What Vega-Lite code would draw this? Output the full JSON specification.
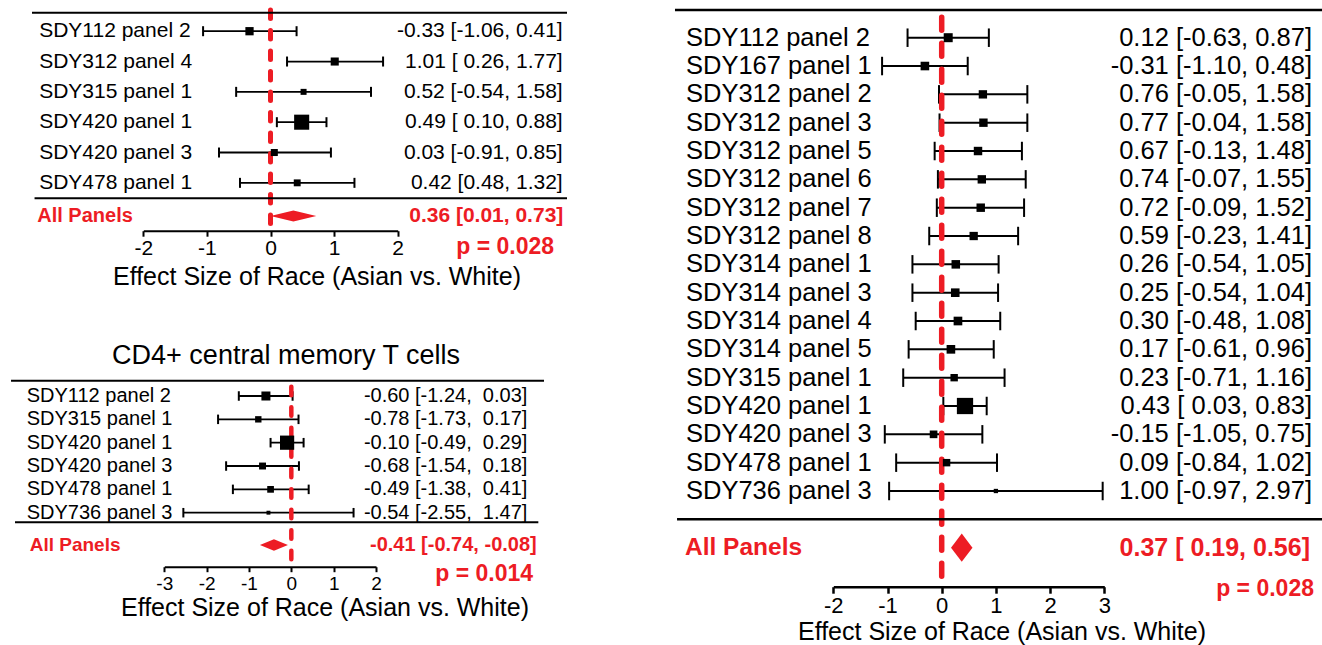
{
  "$schema": "https://vega.github.io/schema/vega-lite/v6.json",
  "width": 1322,
  "height": 645,
  "autosize": {"type": "none"},
  "padding": 0,
  "config": {"view": {"stroke": null}, "font": "Liberation Sans", "axis": {"grid": false}},
  "datasets": {
    "p1": [
      {"row": 1, "study": "SDY112 panel 2", "est": -0.33, "lo": -1.06, "hi": 0.41, "w": 7.11, "ci": "-0.33 [-1.06, 0.41]"},
      {"row": 2, "study": "SDY312 panel 4", "est": 1.01, "lo": 0.26, "hi": 1.77, "w": 6.74, "ci": "1.01 [ 0.26, 1.77]"},
      {"row": 3, "study": "SDY315 panel 1", "est": 0.52, "lo": -0.54, "hi": 1.58, "w": 3.42, "ci": "0.52 [-0.54, 1.58]"},
      {"row": 4, "study": "SDY420 panel 1", "est": 0.49, "lo": 0.10, "hi": 0.88, "w": 25.26, "ci": "0.49 [ 0.10, 0.88]"},
      {"row": 5, "study": "SDY420 panel 3", "est": 0.06, "lo": -0.81, "hi": 0.95, "w": 4.96, "ci": "0.03 [-0.91, 0.85]"},
      {"row": 6, "study": "SDY478 panel 1", "est": 0.42, "lo": -0.48, "hi": 1.32, "w": 4.74, "ci": "0.42 [0.48, 1.32]"}
    ],
    "p1s": [
      {"label": "All Panels", "est": 0.36, "lo": 0.01, "hi": 0.73, "ci": "0.36 [0.01, 0.73]", "p": "p = 0.028"}
    ],
    "p2": [
      {"row": 1, "study": "SDY112 panel 2", "est": -0.60, "lo": -1.24, "hi": 0.03, "w": 9.53, "ci": "-0.60 [-1.24, \u00a00.03]"},
      {"row": 2, "study": "SDY315 panel 1", "est": -0.78, "lo": -1.73, "hi": 0.17, "w": 4.26, "ci": "-0.78 [-1.73, \u00a00.17]"},
      {"row": 3, "study": "SDY420 panel 1", "est": -0.10, "lo": -0.49, "hi": 0.29, "w": 25.26, "ci": "-0.10 [-0.49, \u00a00.29]"},
      {"row": 4, "study": "SDY420 panel 3", "est": -0.68, "lo": -1.54, "hi": 0.18, "w": 5.19, "ci": "-0.68 [-1.54, \u00a00.18]"},
      {"row": 5, "study": "SDY478 panel 1", "est": -0.49, "lo": -1.38, "hi": 0.41, "w": 4.80, "ci": "-0.49 [-1.38, \u00a00.41]"},
      {"row": 6, "study": "SDY736 panel 3", "est": -0.54, "lo": -2.55, "hi": 1.47, "w": 0.95, "ci": "-0.54 [-2.55, \u00a01.47]"}
    ],
    "p2s": [
      {"label": "All Panels", "est": -0.41, "lo": -0.74, "hi": -0.08, "ci": "-0.41 [-0.74, -0.08]", "p": "p = 0.014", "title": "CD4+ central memory T cells"}
    ],
    "p3": [
      {"row": 1, "study": "SDY112 panel 2", "est": 0.12, "lo": -0.63, "hi": 0.87, "w": 6.83, "ci": "0.12 [-0.63, 0.87]"},
      {"row": 2, "study": "SDY167 panel 1", "est": -0.31, "lo": -1.10, "hi": 0.48, "w": 6.16, "ci": "-0.31 [-1.10, 0.48]"},
      {"row": 3, "study": "SDY312 panel 2", "est": 0.76, "lo": -0.05, "hi": 1.58, "w": 5.78, "ci": "0.76 [-0.05, 1.58]"},
      {"row": 4, "study": "SDY312 panel 3", "est": 0.77, "lo": -0.04, "hi": 1.58, "w": 5.85, "ci": "0.77 [-0.04, 1.58]"},
      {"row": 5, "study": "SDY312 panel 5", "est": 0.67, "lo": -0.13, "hi": 1.48, "w": 5.93, "ci": "0.67 [-0.13, 1.48]"},
      {"row": 6, "study": "SDY312 panel 6", "est": 0.74, "lo": -0.07, "hi": 1.55, "w": 5.85, "ci": "0.74 [-0.07, 1.55]"},
      {"row": 7, "study": "SDY312 panel 7", "est": 0.72, "lo": -0.09, "hi": 1.52, "w": 5.93, "ci": "0.72 [-0.09, 1.52]"},
      {"row": 8, "study": "SDY312 panel 8", "est": 0.59, "lo": -0.23, "hi": 1.41, "w": 5.71, "ci": "0.59 [-0.23, 1.41]"},
      {"row": 9, "study": "SDY314 panel 1", "est": 0.26, "lo": -0.54, "hi": 1.05, "w": 6.08, "ci": "0.26 [-0.54, 1.05]"},
      {"row": 10, "study": "SDY314 panel 3", "est": 0.25, "lo": -0.54, "hi": 1.04, "w": 6.16, "ci": "0.25 [-0.54, 1.04]"},
      {"row": 11, "study": "SDY314 panel 4", "est": 0.30, "lo": -0.48, "hi": 1.08, "w": 6.31, "ci": "0.30 [-0.48, 1.08]"},
      {"row": 12, "study": "SDY314 panel 5", "est": 0.17, "lo": -0.61, "hi": 0.96, "w": 6.23, "ci": "0.17 [-0.61, 0.96]"},
      {"row": 13, "study": "SDY315 panel 1", "est": 0.23, "lo": -0.71, "hi": 1.16, "w": 4.39, "ci": "0.23 [-0.71, 1.16]"},
      {"row": 14, "study": "SDY420 panel 1", "est": 0.43, "lo": 0.03, "hi": 0.83, "w": 24.0, "ci": "0.43 [ 0.03, 0.83]"},
      {"row": 15, "study": "SDY420 panel 3", "est": -0.15, "lo": -1.05, "hi": 0.75, "w": 4.74, "ci": "-0.15 [-1.05, 0.75]"},
      {"row": 16, "study": "SDY478 panel 1", "est": 0.09, "lo": -0.84, "hi": 1.02, "w": 4.44, "ci": "0.09 [-0.84, 1.02]"},
      {"row": 17, "study": "SDY736 panel 3", "est": 1.00, "lo": -0.97, "hi": 2.97, "w": 0.99, "ci": "1.00 [-0.97, 2.97]"}
    ],
    "p3s": [
      {"label": "All Panels", "est": 0.37, "lo": 0.19, "hi": 0.56, "ci": "0.37 [ 0.19, 0.56]", "p": "p = 0.028"}
    ]
  },
  "layer": [
    {
      "layer": [
        {
          "data": {"name": "p1"},
          "mark": {"type": "rule", "color": "black", "strokeWidth": 1.8},
          "encoding": {
            "x": {"field": "lo", "type": "quantitative",
              "scale": {"domain": [-2, 2], "range": [143.3, 397.7], "nice": false, "zero": false},
              "axis": {"orient": "bottom", "values": [-2, -1, 0, 1, 2], "offset": -414.3, "domainWidth": 2, "domainColor": "black", "tickColor": "black", "tickWidth": 2, "tickSize": 5.5, "labelFontSize": 21, "labelColor": "black", "labelPadding": 17.8, "labelBaseline": "alphabetic", "labelFlush": false, "labelOverlap": false, "labelExpr": "'' + datum.value", "title": "Effect Size of Race (Asian vs. White)", "titleFontSize": 25, "titleFontWeight": "normal", "titleColor": "black", "titleX": 316.5, "titleY": 53.8, "titleBaseline": "alphabetic", "titleAlign": "center"}},
            "x2": {"field": "hi"},
            "y": {"field": "row", "type": "quantitative", "scale": {"domain": [1, 6], "range": [31.2, 182.85], "nice": false, "zero": false}, "axis": null}
          }
        },
        {
          "data": {"name": "p1"},
          "mark": {"type": "tick", "orient": "vertical", "size": 10, "thickness": 2, "color": "black", "opacity": 1},
          "encoding": {"x": {"field": "lo", "type": "quantitative"}, "y": {"field": "row", "type": "quantitative", "axis": null}}
        },
        {
          "data": {"name": "p1"},
          "mark": {"type": "tick", "orient": "vertical", "size": 10, "thickness": 2, "color": "black", "opacity": 1},
          "encoding": {"x": {"field": "hi", "type": "quantitative"}, "y": {"field": "row", "type": "quantitative", "axis": null}}
        },
        {
          "data": {"name": "p1s"},
          "mark": {"type": "rule", "color": "#ed1c24", "strokeWidth": 5, "strokeDash": [8.5, 12], "strokeCap": "round"},
          "encoding": {"x": {"datum": 0}, "y": {"datum": 0.30, "axis": null}, "y2": {"datum": 7.65}}
        },
        {
          "data": {"name": "p1"},
          "mark": {"type": "point", "shape": "square", "filled": true, "color": "black", "opacity": 1},
          "encoding": {
            "x": {"field": "est", "type": "quantitative"},
            "y": {"field": "row", "type": "quantitative", "axis": null},
            "size": {"field": "w", "type": "quantitative", "scale": {"domain": [0, 25], "range": [6, 225]}, "legend": null}
          }
        },
        {
          "data": {"name": "p1s"},
          "mark": {"type": "point", "shape": "M-1,0L0,-0.24L1,0L0,0.24Z", "filled": true, "color": "#ed1c24", "opacity": 1, "size": 2098},
          "encoding": {"x": {"field": "est", "type": "quantitative"}, "y": {"datum": 7.093, "axis": null}}
        },
        {
          "data": {"name": "p1s"},
          "mark": {"type": "rule", "color": "black", "strokeWidth": 2},
          "encoding": {"x": {"datum": -3.75}, "x2": {"datum": 4.662}, "y": {"datum": 0.39, "axis": null}}
        },
        {
          "data": {"name": "p1s"},
          "mark": {"type": "rule", "color": "black", "strokeWidth": 2},
          "encoding": {"x": {"datum": -3.71}, "x2": {"datum": 4.662}, "y": {"datum": 6.51, "axis": null}}
        },
        {
          "data": {"name": "p1"},
          "mark": {"type": "text", "align": "left", "baseline": "middle", "fontSize": 21, "color": "black"},
          "encoding": {"x": {"datum": -3.637}, "y": {"field": "row", "type": "quantitative", "axis": null}, "text": {"field": "study"}}
        },
        {
          "data": {"name": "p1"},
          "mark": {"type": "text", "align": "right", "baseline": "middle", "fontSize": 21, "color": "black"},
          "encoding": {"x": {"datum": 4.594}, "y": {"field": "row", "type": "quantitative", "axis": null}, "text": {"field": "ci"}}
        },
        {
          "data": {"name": "p1s"},
          "mark": {"type": "text", "align": "left", "baseline": "middle", "fontSize": 20, "fontWeight": "bold", "color": "#ed1c24"},
          "encoding": {"x": {"datum": -3.668}, "y": {"datum": 7.093, "axis": null}, "text": {"field": "label"}}
        },
        {
          "data": {"name": "p1s"},
          "mark": {"type": "text", "align": "right", "baseline": "middle", "fontSize": 21, "fontWeight": "bold", "color": "#ed1c24"},
          "encoding": {"x": {"datum": 4.604}, "y": {"datum": 7.093, "axis": null}, "text": {"field": "ci"}}
        },
        {
          "data": {"name": "p1s"},
          "mark": {"type": "text", "align": "right", "baseline": "middle", "fontSize": 23, "fontWeight": "bold", "color": "#ed1c24"},
          "encoding": {"x": {"datum": 4.458}, "y": {"datum": 8.115, "axis": null}, "text": {"field": "p"}}
        }
      ]
    },
    {
      "layer": [
        {
          "data": {"name": "p2"},
          "mark": {"type": "rule", "color": "black", "strokeWidth": 1.8},
          "encoding": {
            "x": {"field": "lo", "type": "quantitative",
              "scale": {"domain": [-3, 2], "range": [164.3, 376], "nice": false, "zero": false},
              "axis": {"orient": "bottom", "values": [-3, -2, -1, 0, 1, 2], "offset": -78.3, "domainWidth": 2, "domainColor": "black", "tickColor": "black", "tickWidth": 2, "tickSize": 5, "labelFontSize": 19, "labelColor": "black", "labelPadding": 17.3, "labelBaseline": "alphabetic", "labelFlush": false, "labelOverlap": false, "labelExpr": "'' + datum.value", "title": "Effect Size of Race (Asian vs. White)", "titleFontSize": 25, "titleFontWeight": "normal", "titleColor": "black", "titleX": 324.5, "titleY": 49, "titleBaseline": "alphabetic", "titleAlign": "center"}},
            "x2": {"field": "hi"},
            "y": {"field": "row", "type": "quantitative", "scale": {"domain": [1, 6], "range": [396, 512.7], "nice": false, "zero": false}, "axis": null}
          }
        },
        {
          "data": {"name": "p2"},
          "mark": {"type": "tick", "orient": "vertical", "size": 9.5, "thickness": 2, "color": "black", "opacity": 1},
          "encoding": {"x": {"field": "lo", "type": "quantitative"}, "y": {"field": "row", "type": "quantitative", "axis": null}}
        },
        {
          "data": {"name": "p2"},
          "mark": {"type": "tick", "orient": "vertical", "size": 9.5, "thickness": 2, "color": "black", "opacity": 1},
          "encoding": {"x": {"field": "hi", "type": "quantitative"}, "y": {"field": "row", "type": "quantitative", "axis": null}}
        },
        {
          "data": {"name": "p2s"},
          "mark": {"type": "rule", "color": "#ed1c24", "strokeWidth": 4.5, "strokeDash": [8.5, 12], "strokeCap": "round"},
          "encoding": {"x": {"datum": 0}, "y": {"datum": 0.6, "axis": null}, "y2": {"datum": 8.5}}
        },
        {
          "data": {"name": "p2"},
          "mark": {"type": "point", "shape": "square", "filled": true, "color": "black", "opacity": 1},
          "encoding": {
            "x": {"field": "est", "type": "quantitative"},
            "y": {"field": "row", "type": "quantitative", "axis": null},
            "size": {"field": "w", "type": "quantitative", "scale": {"domain": [0, 25], "range": [8, 200]}, "legend": null}
          }
        },
        {
          "data": {"name": "p2s"},
          "mark": {"type": "point", "shape": "M-1,0L0,-0.414L1,0L0,0.414Z", "filled": true, "color": "#ed1c24", "opacity": 1, "size": 784},
          "encoding": {"x": {"field": "est", "type": "quantitative"}, "y": {"datum": 7.384, "axis": null}}
        },
        {
          "data": {"name": "p2s"},
          "mark": {"type": "rule", "color": "black", "strokeWidth": 2},
          "encoding": {"x": {"datum": -6.62}, "x2": {"datum": 5.968}, "y": {"datum": 0.3445, "axis": null}}
        },
        {
          "data": {"name": "p2s"},
          "mark": {"type": "rule", "color": "black", "strokeWidth": 2},
          "encoding": {"x": {"datum": -6.526}, "x2": {"datum": 5.834}, "y": {"datum": 6.411, "axis": null}}
        },
        {
          "data": {"name": "p2s"},
          "mark": {"type": "text", "align": "center", "baseline": "middle", "fontSize": 27, "color": "black"},
          "encoding": {"x": {"datum": -0.125}, "y": {"datum": -0.714, "axis": null}, "text": {"field": "title"}}
        },
        {
          "data": {"name": "p2"},
          "mark": {"type": "text", "align": "left", "baseline": "middle", "fontSize": 20, "color": "black"},
          "encoding": {"x": {"datum": -6.249}, "y": {"field": "row", "type": "quantitative", "axis": null}, "text": {"field": "study"}}
        },
        {
          "data": {"name": "p2"},
          "mark": {"type": "text", "align": "right", "baseline": "middle", "fontSize": 20, "color": "black"},
          "encoding": {"x": {"datum": 5.574}, "y": {"field": "row", "type": "quantitative", "axis": null}, "text": {"field": "ci"}}
        },
        {
          "data": {"name": "p2s"},
          "mark": {"type": "text", "align": "left", "baseline": "middle", "fontSize": 19, "fontWeight": "bold", "color": "#ed1c24"},
          "encoding": {"x": {"datum": -6.179}, "y": {"datum": 7.384, "axis": null}, "text": {"field": "label"}}
        },
        {
          "data": {"name": "p2s"},
          "mark": {"type": "text", "align": "right", "baseline": "middle", "fontSize": 20, "fontWeight": "bold", "color": "#ed1c24"},
          "encoding": {"x": {"datum": 5.796}, "y": {"datum": 7.384, "axis": null}, "text": {"field": "ci"}}
        },
        {
          "data": {"name": "p2s"},
          "mark": {"type": "text", "align": "right", "baseline": "middle", "fontSize": 23, "fontWeight": "bold", "color": "#ed1c24"},
          "encoding": {"x": {"datum": 5.709}, "y": {"datum": 8.635, "axis": null}, "text": {"field": "p"}}
        }
      ]
    },
    {
      "layer": [
        {
          "data": {"name": "p3"},
          "mark": {"type": "rule", "color": "black", "strokeWidth": 2},
          "encoding": {
            "x": {"field": "lo", "type": "quantitative",
              "scale": {"domain": [-2, 3], "range": [833.3, 1104.3], "nice": false, "zero": false},
              "axis": {"orient": "bottom", "values": [-2, -1, 0, 1, 2, 3], "offset": -58.3, "domainWidth": 2.5, "domainColor": "black", "tickColor": "black", "tickWidth": 2.5, "tickSize": 6.5, "labelFontSize": 22, "labelColor": "black", "labelPadding": 19.6, "labelBaseline": "alphabetic", "labelFlush": false, "labelOverlap": false, "labelExpr": "'' + datum.value", "title": "Effect Size of Race (Asian vs. White)", "titleFontSize": 25, "titleFontWeight": "normal", "titleColor": "black", "titleX": 1001.5, "titleY": 52.6, "titleBaseline": "alphabetic", "titleAlign": "center"}},
            "x2": {"field": "hi"},
            "y": {"field": "row", "type": "quantitative", "scale": {"domain": [1, 17], "range": [37.7, 491], "nice": false, "zero": false}, "axis": null}
          }
        },
        {
          "data": {"name": "p3"},
          "mark": {"type": "tick", "orient": "vertical", "size": 18.5, "thickness": 2, "color": "black", "opacity": 1},
          "encoding": {"x": {"field": "lo", "type": "quantitative"}, "y": {"field": "row", "type": "quantitative", "axis": null}}
        },
        {
          "data": {"name": "p3"},
          "mark": {"type": "tick", "orient": "vertical", "size": 18.5, "thickness": 2, "color": "black", "opacity": 1},
          "encoding": {"x": {"field": "hi", "type": "quantitative"}, "y": {"field": "row", "type": "quantitative", "axis": null}}
        },
        {
          "data": {"name": "p3s"},
          "mark": {"type": "rule", "color": "#ed1c24", "strokeWidth": 5.5, "strokeDash": [13, 13], "strokeCap": "round"},
          "encoding": {"x": {"datum": 0}, "y": {"datum": 0.28, "axis": null}, "y2": {"datum": 20.42}}
        },
        {
          "data": {"name": "p3"},
          "mark": {"type": "point", "shape": "square", "filled": true, "color": "black", "opacity": 1},
          "encoding": {
            "x": {"field": "est", "type": "quantitative"},
            "y": {"field": "row", "type": "quantitative", "axis": null},
            "size": {"field": "w", "type": "quantitative", "scale": {"domain": [0, 25], "range": [8, 275]}, "legend": null}
          }
        },
        {
          "data": {"name": "p3s"},
          "mark": {"type": "point", "shape": "M-1,0L0,-1.31L1,0L0,1.31Z", "filled": true, "color": "#ed1c24", "opacity": 1, "size": 460},
          "encoding": {"x": {"field": "est", "type": "quantitative"}, "y": {"datum": 19, "axis": null}}
        },
        {
          "data": {"name": "p3s"},
          "mark": {"type": "rule", "color": "black", "strokeWidth": 2.5},
          "encoding": {"x": {"datum": -4.921}, "x2": {"datum": 7.1}, "y": {"datum": 0.02, "axis": null}}
        },
        {
          "data": {"name": "p3s"},
          "mark": {"type": "rule", "color": "black", "strokeWidth": 2.5},
          "encoding": {"x": {"datum": -4.883}, "x2": {"datum": 7.1}, "y": {"datum": 18, "axis": null}}
        },
        {
          "data": {"name": "p3"},
          "mark": {"type": "text", "align": "left", "baseline": "middle", "fontSize": 25.5, "color": "black"},
          "encoding": {"x": {"datum": -4.718}, "y": {"field": "row", "type": "quantitative", "axis": null}, "text": {"field": "study"}}
        },
        {
          "data": {"name": "p3"},
          "mark": {"type": "text", "align": "right", "baseline": "middle", "fontSize": 25.5, "color": "black"},
          "encoding": {"x": {"datum": 6.832}, "y": {"field": "row", "type": "quantitative", "axis": null}, "text": {"field": "ci"}}
        },
        {
          "data": {"name": "p3s"},
          "mark": {"type": "text", "align": "left", "baseline": "middle", "fontSize": 24.5, "fontWeight": "bold", "color": "#ed1c24"},
          "encoding": {"x": {"datum": -4.736}, "y": {"datum": 19, "axis": null}, "text": {"field": "label"}}
        },
        {
          "data": {"name": "p3s"},
          "mark": {"type": "text", "align": "right", "baseline": "middle", "fontSize": 25, "fontWeight": "bold", "color": "#ed1c24"},
          "encoding": {"x": {"datum": 6.795}, "y": {"datum": 19, "axis": null}, "text": {"field": "ci"}}
        },
        {
          "data": {"name": "p3s"},
          "mark": {"type": "text", "align": "right", "baseline": "middle", "fontSize": 23, "fontWeight": "bold", "color": "#ed1c24"},
          "encoding": {"x": {"datum": 6.869}, "y": {"datum": 20.46, "axis": null}, "text": {"field": "p"}}
        }
      ]
    }
  ],
  "resolve": {"scale": {"x": "independent", "y": "independent", "size": "independent"}, "axis": {"x": "independent", "y": "independent"}}
}
